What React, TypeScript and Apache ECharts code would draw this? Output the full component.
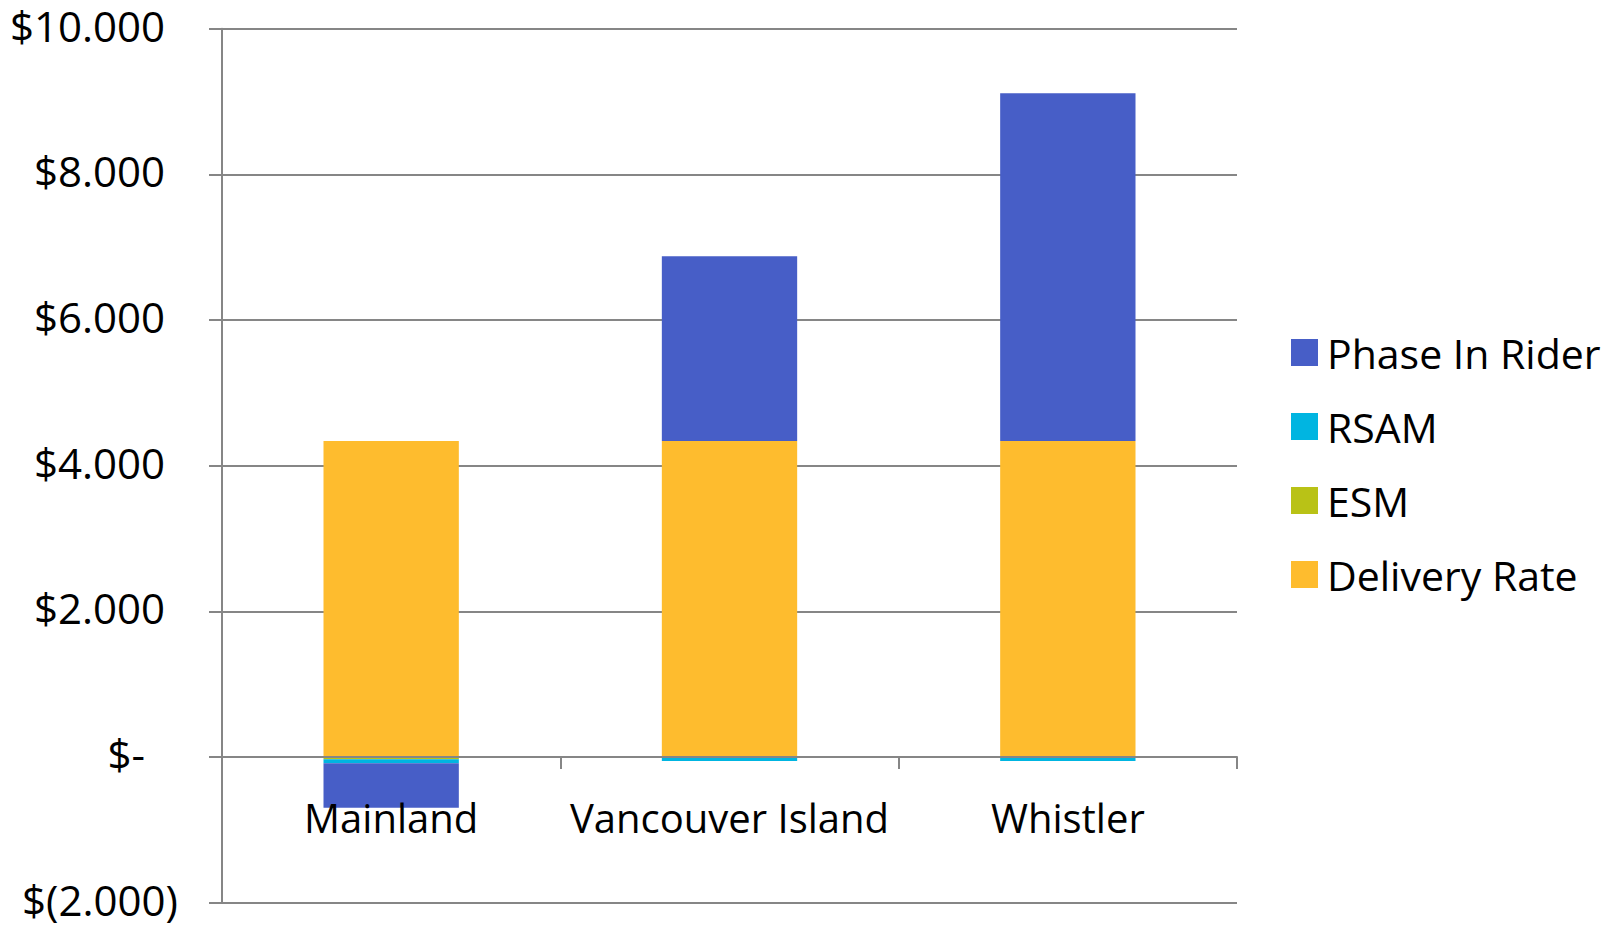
import React, { useEffect, useRef } from "react";
import * as echarts from "echarts";

// Rate components per service region (stacked bars)
const regions = ["Mainland", "Vancouver Island", "Whistler"];
const deliveryRate = [4.34, 4.34, 4.34];
const esm = [-0.03, 0, 0];
const rsam = [-0.055, -0.055, -0.055];
const phaseInRider = [-0.61, 2.535, 4.775];

// Value axis range and spacing
const yMin = -2;
const yMax = 10;
const yStep = 2;

const seriesNames = ["Phase In Rider", "RSAM", "ESM", "Delivery Rate"];
const colors: Record<string, string> = {
  "Phase In Rider": "#475EC7",
  RSAM: "#00B5E1",
  ESM: "#B9C216",
  "Delivery Rate": "#FEBC2E",
};

const FONT = "'Open Sans', 'Noto Sans', sans-serif";

// Plot area edges in pixels
const GRID_TOP = 28.7;
const GRID_BOTTOM = 23.3;
const CHART_H = 926;

// Accounting-style money label: $10.000, $-, $(2.000)
function moneyLabel(v: number): string {
  if (v === 0) return "$-{z| }";
  if (v < 0) return "$(" + Math.abs(v).toFixed(3) + ")";
  return "$" + v.toFixed(3) + "{p| }";
}

export default function App() {
  const ref = useRef<HTMLDivElement>(null);

  useEffect(() => {
    if (!ref.current) return;
    const chart = echarts.init(ref.current, undefined, { renderer: "svg" });

    // Lift the category axis (line, ticks, labels) up to the zero value
    const plotH = CHART_H - GRID_TOP - GRID_BOTTOM;
    const zeroLift = (plotH * (0 - yMin)) / (yMax - yMin);

    const stackSeries = [
      { name: "Delivery Rate", data: deliveryRate },
      { name: "ESM", data: esm },
      { name: "RSAM", data: rsam },
      { name: "Phase In Rider", data: phaseInRider },
    ].map((s) => ({
      type: "bar" as const,
      name: s.name,
      stack: "rate",
      data: s.data,
      barWidth: "40%",
      itemStyle: { color: colors[s.name] },
    }));

    chart.setOption({
      animation: false,
      backgroundColor: "#ffffff",
      textStyle: { fontFamily: FONT },
      grid: {
        left: 222,
        right: 382,
        top: GRID_TOP,
        bottom: GRID_BOTTOM,
        containLabel: false,
        outerBoundsMode: "none",
      },
      legend: {
        orient: "vertical",
        left: 1286,
        top: 327,
        data: seriesNames,
        icon: "rect",
        itemWidth: 27,
        itemHeight: 27,
        itemGap: 33,
        selectedMode: false,
        textStyle: {
          fontFamily: FONT,
          fontSize: 41,
          color: "#000000",
          padding: [0, 0, 0, 4],
        },
      },
      xAxis: {
        type: "category",
        data: regions,
        position: "bottom",
        offset: -zeroLift,
        z: 5,
        axisLine: { onZero: false, lineStyle: { color: "#868686", width: 2 } },
        axisTick: { show: true, length: 12, lineStyle: { color: "#868686", width: 2 } },
        axisLabel: {
          interval: 0,
          hideOverlap: false,
          fontFamily: FONT,
          fontSize: 40,
          color: "#000000",
          margin: 40,
          lineHeight: 40,
        },
        splitLine: { show: false },
      },
      yAxis: {
        type: "value",
        min: yMin,
        max: yMax,
        interval: yStep,
        axisLine: { show: true, lineStyle: { color: "#868686", width: 2 } },
        axisTick: { show: true, length: 13, lineStyle: { color: "#868686", width: 2 } },
        splitLine: { show: true, lineStyle: { color: "#868686", width: 2 } },
        axisLabel: {
          fontFamily: FONT,
          fontSize: 42,
          lineHeight: 42,
          padding: [0, 0, 7, 0],
          color: "#000000",
          margin: 44,
          align: "right",
          formatter: moneyLabel,
          rich: {
            p: { width: 13, fontFamily: FONT, fontSize: 42 },
            z: { width: 33, fontFamily: FONT, fontSize: 42 },
          },
        },
      },
      series: stackSeries,
    });

    return () => chart.dispose();
  }, []);

  return (
    <div
      ref={ref}
      style={{ position: "fixed", left: 0, top: 0, width: 1619, height: 926, background: "#fff" }}
    />
  );
}
